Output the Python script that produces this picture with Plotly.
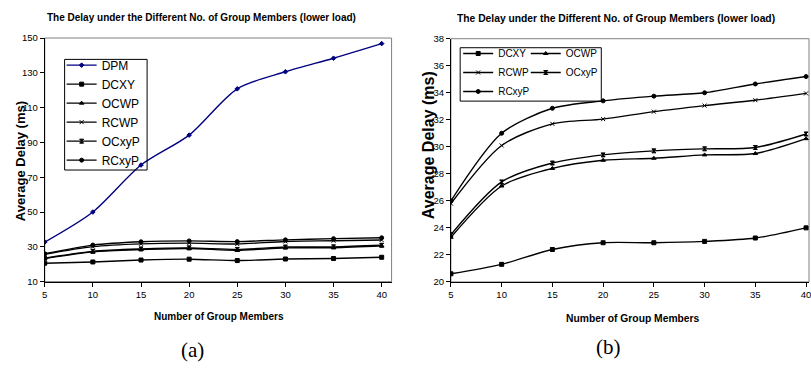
import plotly.graph_objects as go

# ---------------- data ----------------
members = [5, 10, 15, 20, 25, 30, 35, 40]

# chart (a)
dpm_a   = [32.7, 50.0, 77.0, 94.2, 120.8, 130.6, 138.4, 146.8]
dcxy_a  = [20.6, 21.3, 22.4, 22.9, 22.1, 23.0, 23.3, 24.0]
ocwp_a  = [23.3, 27.1, 28.4, 29.0, 28.0, 29.4, 29.5, 30.6]
rcwp_a  = [25.7, 30.1, 31.7, 32.1, 31.6, 33.1, 33.5, 33.9]
ocxyp_a = [23.5, 27.4, 28.8, 29.4, 28.5, 29.9, 30.0, 30.9]
rcxyp_a = [26.0, 31.0, 32.9, 33.4, 33.0, 34.0, 34.7, 35.2]

# chart (b)
dcxy_b  = [20.6, 21.3, 22.4, 22.9, 22.9, 23.0, 23.25, 24.0]
ocwp_b  = [23.3, 27.1, 28.4, 29.0, 29.15, 29.4, 29.5, 30.6]
rcwp_b  = [25.8, 30.1, 31.7, 32.05, 32.6, 33.05, 33.45, 33.95]
ocxyp_b = [23.5, 27.4, 28.8, 29.4, 29.7, 29.85, 29.95, 30.95]
rcxyp_b = [26.0, 31.0, 32.85, 33.4, 33.75, 34.0, 34.65, 35.2]

x_ticks = [5, 10, 15, 20, 25, 30, 35, 40]
ya_ticks = [10, 30, 50, 70, 90, 110, 130, 150]
yb_ticks = [20, 22, 24, 26, 28, 30, 32, 34, 36, 38]

title_text = "The Delay under the Different No. of Group Members (lower load)"
FONT = "Liberation Sans, Arial, sans-serif"

W, H = 811, 373
def px(x):
    return x / W
def py(y):
    return 1 - y / H

fig = go.Figure()

def add(x, y, name, symbol, color, xa, ya, legend, msize=4):
    fig.add_trace(go.Scatter(
        x=x, y=y, name=name, mode="lines+markers",
        line=dict(color=color, width=1.4, shape="spline", smoothing=0.8),
        marker=dict(symbol=symbol, size=msize, color=color,
                    line=dict(color=color, width=1)),
        xaxis=xa, yaxis=ya, legend=legend))

# chart (a)
add(members, dpm_a, "DPM", "diamond", "#000080", "x", "y", "legend", msize=3.5)
add(members, dcxy_a, "DCXY", "square", "black", "x", "y", "legend")
add(members, ocwp_a, "OCWP", "triangle-up", "black", "x", "y", "legend")
add(members, rcwp_a, "RCWP", "x-thin", "black", "x", "y", "legend")
add(members, ocxyp_a, "OCxyP", "hourglass", "black", "x", "y", "legend")
add(members, rcxyp_a, "RCxyP", "circle", "black", "x", "y", "legend")

# chart (b)
add(members, dcxy_b, "DCXY", "square", "black", "x2", "y2", "legend2")
add(members, rcwp_b, "RCWP", "x-thin", "black", "x2", "y2", "legend2")
add(members, rcxyp_b, "RCxyP", "circle", "black", "x2", "y2", "legend2")
add(members, ocwp_b, "OCWP", "triangle-up", "black", "x2", "y2", "legend3")
add(members, ocxyp_b, "OCxyP", "hourglass", "black", "x2", "y2", "legend3")

tickfont = dict(family=FONT, size=9.5, color="black")
axis_common = dict(showgrid=False, zeroline=False, showline=True, linecolor="black",
                   linewidth=1, ticks="outside", ticklen=4, tickcolor="black",
                   tickfont=tickfont, ticklabeloverflow="allow")

fig.update_layout(
    width=W, height=H,
    margin=dict(l=0, r=0, t=0, b=0),
    paper_bgcolor="white", plot_bgcolor="white",
    font=dict(family=FONT, color="black"),
    xaxis=dict(domain=[px(42), px(391)], range=[5, 41.03], tickvals=x_ticks,
               anchor="y", **axis_common),
    yaxis=dict(domain=[py(284), py(33)], range=[10, 150], tickvals=ya_ticks,
               anchor="x", **axis_common),
    xaxis2=dict(domain=[px(450.7), 1.0], range=[5, 40.29], tickvals=x_ticks,
                anchor="y2", **axis_common),
    yaxis2=dict(domain=[py(284.3), py(33.7)], range=[20, 38], tickvals=yb_ticks,
                anchor="x2", **axis_common),
    legend=dict(x=px(59), y=py(46), xanchor="left", yanchor="top",
                bgcolor="rgba(0,0,0,0)", borderwidth=0,
                font=dict(family=FONT, size=12), itemwidth=30, tracegroupgap=0),
    legend2=dict(x=px(458), y=py(34), xanchor="left", yanchor="top",
                 bgcolor="rgba(0,0,0,0)", borderwidth=0,
                 font=dict(family=FONT, size=10), itemwidth=30),
    legend3=dict(x=px(526), y=py(34), xanchor="left", yanchor="top",
                 bgcolor="rgba(0,0,0,0)", borderwidth=0,
                 font=dict(family=FONT, size=10), itemwidth=30),
    showlegend=True,
)

# grey frame on top/right of plot areas
for xr, yr in (("x domain", "y domain"), ("x2 domain", "y2 domain")):
    fig.add_shape(type="rect", xref=xr, yref=yr, x0=0, x1=1, y0=0, y1=1,
                  line=dict(color="#808080", width=1), layer="below")

# legend boxes
fig.add_shape(type="rect", xref="paper", yref="paper",
              x0=px(62), x1=px(145), y0=py(169), y1=py(55),
              line=dict(color="black", width=1), fillcolor="rgba(0,0,0,0)", layer="above")
fig.add_shape(type="rect", xref="paper", yref="paper",
              x0=px(460), x1=px(602), y0=py(98), y1=py(43),
              line=dict(color="black", width=1), fillcolor="rgba(0,0,0,0)", layer="above")

ann = []
ann.append(dict(text="<b>" + title_text + "</b>", x=px(200), y=py(12),
                font=dict(family=FONT, size=10)))
ann.append(dict(text="<b>" + title_text + "</b>", x=px(617), y=py(13),
                font=dict(family=FONT, size=10.3)))
ann.append(dict(text="<b>Number of Group Members</b>", x=px(217), y=py(320),
                font=dict(family=FONT, size=10)))
ann.append(dict(text="<b>Number of Group Members</b>", x=px(634), y=py(322),
                font=dict(family=FONT, size=10.3)))
ann.append(dict(text="<b>Average Delay (ms)</b>", x=px(17), y=py(160), textangle=-90,
                font=dict(family=FONT, size=13)))
ann.append(dict(text="<b>Average Delay (ms)</b>", x=px(428), y=py(143), textangle=-90,
                font=dict(family=FONT, size=16)))
ann.append(dict(text="(a)", x=px(191), y=py(354),
                font=dict(family="Liberation Serif, Times New Roman, serif", size=21)))
ann.append(dict(text="(b)", x=px(609), y=py(351),
                font=dict(family="Liberation Serif, Times New Roman, serif", size=21)))
for a in ann:
    a.update(xref="paper", yref="paper", showarrow=False, xanchor="center", yanchor="middle")
fig.update_layout(annotations=ann)

fig.write_html("out.html",
               config={"displayModeBar": False},
               post_script="document.body.style.margin='0';document.body.style.overflow='hidden';")
